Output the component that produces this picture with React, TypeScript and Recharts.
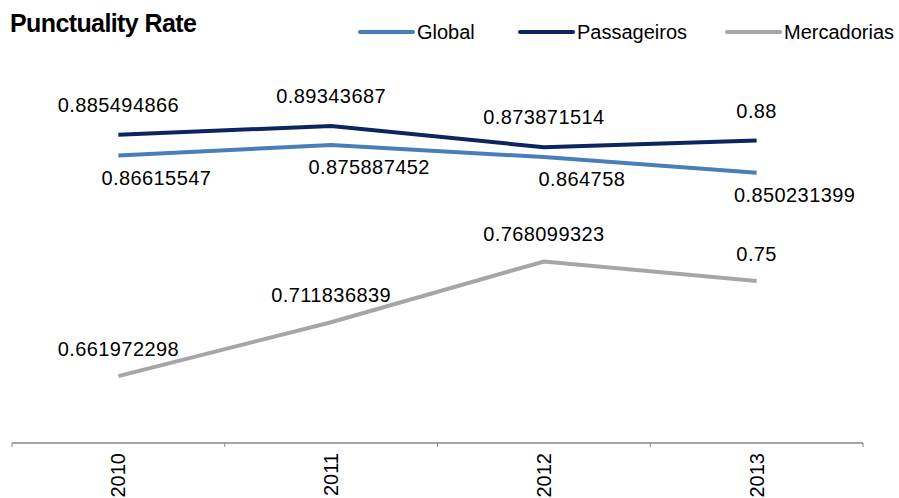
import React from 'react';
import { LineChart, Line, XAxis, YAxis, LabelList } from 'recharts';

const years = ['2010', '2011', '2012', '2013'];
const globalRate = [0.86615547, 0.875887452, 0.864758, 0.850231399];
const passageirosRate = [0.885494866, 0.89343687, 0.873871514, 0.88];
const mercadoriasRate = [0.661972298, 0.711836839, 0.768099323, 0.75];

const W = 899;
const H = 498;
const margin = { top: 11, right: 36, bottom: 0, left: 12 };
const FONT = '"Liberation Sans", Arial, sans-serif';

// half of one category slot, so points sit in the middle of each slot
const halfSlot = (W - margin.left - margin.right) / years.length / 2;

const data = years.map((year, i) => ({
  year,
  global: globalRate[i],
  passageiros: passageirosRate[i],
  mercadorias: mercadoriasRate[i],
}));

const series = [
  { key: 'global', name: 'Global', color: '#4a7ebb', dx: 38, dy: 29 },
  { key: 'passageiros', name: 'Passageiros', color: '#0c2560', dx: 0, dy: -23 },
  { key: 'mercadorias', name: 'Mercadorias', color: '#a6a6a6', dx: 0, dy: -20 },
];

const valueLabel = (dx: number, dy: number) => (props: any) => {
  const { x, y, value } = props;
  return (
    <text x={x + dx} y={y + dy} textAnchor="middle" fontSize={20} letterSpacing={0.4} fontFamily={FONT} fill="#000">
      {String(value)}
    </text>
  );
};

const YearTick = (props: any) => {
  const { x, y, payload, index, visibleTicksCount } = props;
  const last = index === visibleTicksCount - 1;
  const ty = y + 10;
  return (
    <g>
      <line x1={x - halfSlot} y1={y} x2={x - halfSlot} y2={y + 4} stroke="#868686" />
      {last && <line x1={x + halfSlot} y1={y} x2={x + halfSlot} y2={y + 4} stroke="#868686" />}
      <text
        x={x}
        y={ty}
        transform={`rotate(-90, ${x}, ${ty})`}
        textAnchor="end"
        dy="0.35em"
        fontSize={20}
        fontFamily={FONT}
        fill="#000"
      >
        {payload.value}
      </text>
    </g>
  );
};

const legendX = [360, 520, 727];

export default function App() {
  return (
    <div style={{ position: 'absolute', left: 0, top: 0, width: W, height: H, background: '#fff' }}>
      <LineChart width={W} height={H} data={data} margin={margin}>
        <XAxis
          dataKey="year"
          height={55}
          padding={{ left: halfSlot, right: halfSlot }}
          axisLine={{ stroke: '#868686', strokeWidth: 1.5 }}
          tickLine={false}
          tickSize={0}
          tickMargin={0}
          interval={0}
          tick={<YearTick />}
        />
        <YAxis hide domain={[0.6, 1]} />
        {series.map((s) => (
          <Line
            key={s.key}
            dataKey={s.key}
            name={s.name}
            stroke={s.color}
            strokeWidth={4}
            dot={false}
            type="linear"
            isAnimationActive={false}
          >
            <LabelList dataKey={s.key} content={valueLabel(s.dx, s.dy)} />
          </Line>
        ))}
      </LineChart>

      <svg width={W} height={60} style={{ position: 'absolute', left: 0, top: 0, pointerEvents: 'none' }}>
        <text x={10} y={32} fontSize={25} fontWeight="bold" letterSpacing={-0.6} fontFamily={FONT} fill="#000">
          Punctuality Rate
        </text>
        {series.map((s, i) => (
          <g key={s.key}>
            <line x1={legendX[i]} y1={32} x2={legendX[i] + 53} y2={32} stroke={s.color} strokeWidth={4} strokeLinecap="round" />
            <text x={legendX[i] + 57} y={39} fontSize={20} fontFamily={FONT} fill="#000">
              {s.name}
            </text>
          </g>
        ))}
      </svg>
    </div>
  );
}
